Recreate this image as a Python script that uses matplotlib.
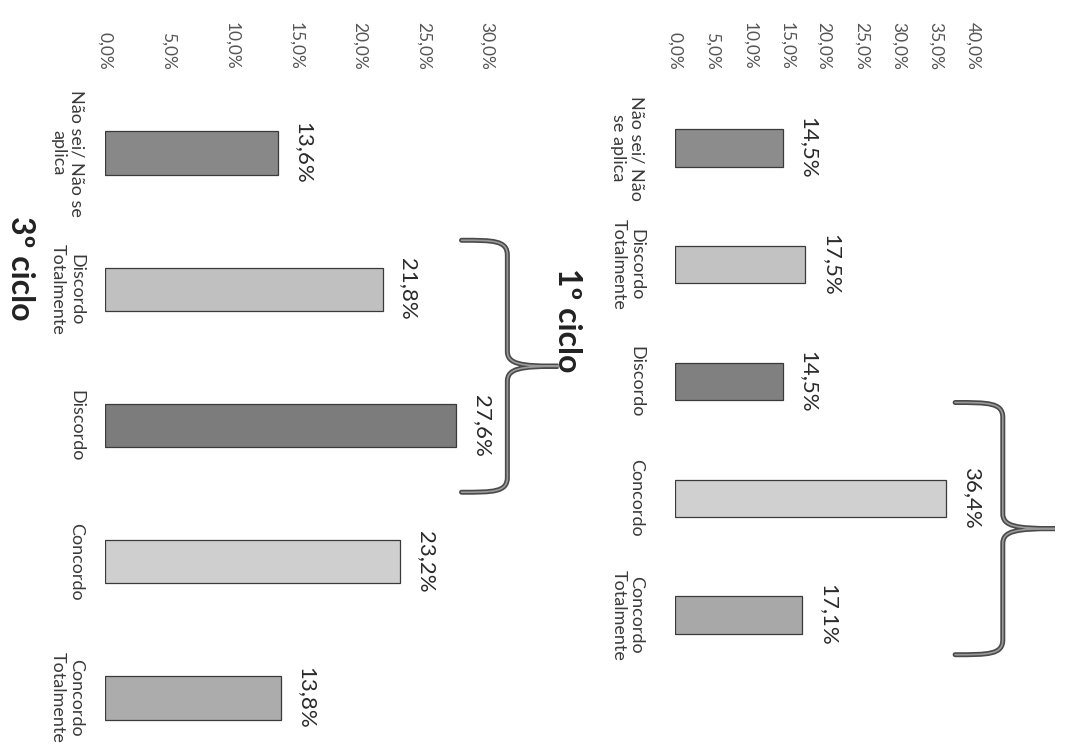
import numpy as np
import matplotlib
matplotlib.use('Agg')
import matplotlib.pyplot as plt
from matplotlib.path import Path
from matplotlib.patches import PathPatch

plt.rcParams['font.family'] = ['Lato', 'DejaVu Sans']

# ---- data -------------------------------------------------------------
labels_1 = ['Não sei/ Não\nse aplica', 'Discordo\nTotalmente', 'Discordo',
            'Concordo', 'Concordo\nTotalmente']
values_1 = [14.5, 17.5, 14.5, 36.4, 17.1]
ticks_1 = [0, 5, 10, 15, 20, 25, 30, 35, 40]

labels_3 = ['Não sei/ Não se\naplica', 'Discordo\nTotalmente', 'Discordo',
            'Concordo', 'Concordo\nTotalmente']
values_3 = [13.6, 21.8, 27.6, 23.2, 13.8]
ticks_3 = [0, 5, 10, 15, 20, 25, 30]

colors_1 = ['#8c8c8c', '#c2c2c2', '#808080', '#d0d0d0', '#a8a8a8']
colors_3 = ['#888888', '#c0c0c0', '#7c7c7c', '#cfcfcf', '#acacac']

W, H = 1068, 753
fig = plt.figure(figsize=(W / 100, H / 100), dpi=100)
fig.patch.set_facecolor('white')


def px_rect(x0, x1, y_top, y_bot):
    # pixel box (image coords) -> figure fraction rect
    return [x0 / W, 1 - y_bot / H, (x1 - x0) / W, (y_bot - y_top) / H]


def pct(v):
    return f'{v:.1f}%'.replace('.', ',')


def brace(ax, y0, y1, x_end, x_line, x_tip, lw=2.4):
    ym = (y0 + y1) / 2
    r = (y1 - y0) * 0.06
    verts = [(x_end, y0),
             (x_line - (x_line - x_end) * 0.3, y0), (x_line, y0), (x_line, y0 + r),
             (x_line, ym - r),
             (x_line, ym - r * 0.15), (x_line + (x_tip - x_line) * 0.25, ym), (x_tip, ym),
             (x_line + (x_tip - x_line) * 0.25, ym), (x_line, ym + r * 0.15), (x_line, ym + r),
             (x_line, y1 - r),
             (x_line, y1), (x_line - (x_line - x_end) * 0.3, y1), (x_end, y1)]
    codes = [Path.MOVETO,
             Path.CURVE4, Path.CURVE4, Path.CURVE4,
             Path.LINETO,
             Path.CURVE4, Path.CURVE4, Path.CURVE4,
             Path.CURVE4, Path.CURVE4, Path.CURVE4,
             Path.LINETO,
             Path.CURVE4, Path.CURVE4, Path.CURVE4]
    p = Path(verts, codes)
    ax.add_patch(PathPatch(p, fill=False, edgecolor='#4a4a4a', lw=lw + 1.2,
                           clip_on=False, capstyle='round'))
    ax.add_patch(PathPatch(p, fill=False, edgecolor='#9a9a9a', lw=lw - 1.2,
                           clip_on=False, capstyle='round'))


def panel(ax, labels, values, colors, ticks, ylim, xpad, ypad):
    pos = np.arange(len(values))
    ax.barh(pos, values, height=0.32, color=colors, edgecolor='#3a3a3a', linewidth=0.9)
    ax.set_xlim(ticks[0], ticks[-1])
    ax.set_ylim(*ylim)
    ax.xaxis.tick_top()
    ax.set_xticks(ticks)
    ax.set_xticklabels([pct(t) for t in ticks], rotation=-90, fontsize=12.5,
                       color='#555555')
    ax.set_yticks(pos)
    ax.set_yticklabels(labels, rotation=-90, fontsize=13, color='#3a3a3a',
                       va='center', ha='right', multialignment='center',
                       linespacing=1.15)
    ax.tick_params(axis='x', length=0, pad=xpad)
    ax.tick_params(axis='y', length=0, pad=ypad)
    for s in ax.spines.values():
        s.set_visible(False)
    ax.set_facecolor('none')
    for p_, v in zip(pos, values):
        ax.annotate(pct(v), (v, p_), xytext=(11, 0), textcoords='offset points',
                    rotation=-90, ha='left', va='center', fontsize=16,
                    color='#2a2a2a')


# 1º ciclo (right half)
ax1 = fig.add_axes(px_rect(675, 973, 89.6, 673.4))
panel(ax1, labels_1, values_1, colors_1, ticks_1, (4.5, -0.5), 14, 22)
brace(ax1, 2.18, 4.34, 37.6, 44.0, 51.0)

# 3º ciclo (left half)
ax3 = fig.add_axes(px_rect(105, 487, 85, 766))
panel(ax3, labels_3, values_3, colors_3, ticks_3, (4.5, -0.5), 11, 15)
brace(ax3, 0.64, 2.49, 28.0, 31.6, 35.6)

fig.text(568 / W, 1 - 320 / H, '1º ciclo', rotation=-90, fontsize=23,
         fontweight='bold', ha='center', va='center', color='#222222')
fig.text(20 / W, 1 - 268 / H, '3º ciclo', rotation=-90, fontsize=23,
         fontweight='bold', ha='center', va='center', color='#222222')

fig.savefig('out.png', dpi=100, facecolor='white')
